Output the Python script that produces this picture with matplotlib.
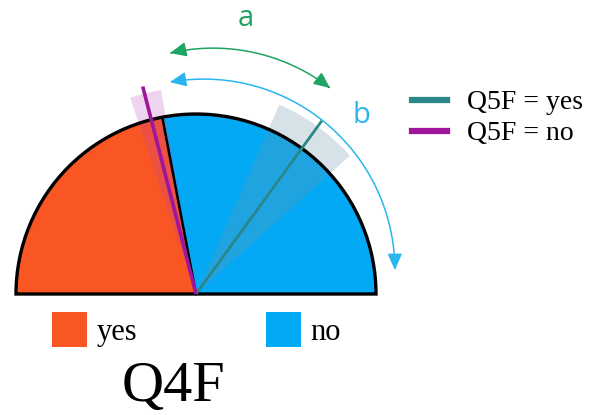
import numpy as np
import matplotlib
matplotlib.use('Agg')
import matplotlib.pyplot as plt
from matplotlib.patches import Wedge, Patch, FancyArrowPatch
from matplotlib.lines import Line2D
from matplotlib.path import Path

# ---------------- data ----------------
q4f_categories = ['yes', 'no']
q4f_shares = [0.44, 0.56]            # share of answers (yes drawn on the left)
q4f_colors = ['#F95624', '#03A9F4']

q5f_labels = ['Q5F = yes', 'Q5F = no']
q5f_estimates = [0.70, 0.42]         # estimated share of "yes" within each Q5F group
q5f_ci_low = [0.632, 0.397]
q5f_ci_high = [0.767, 0.446]
q5f_colors = ['#2A8787', '#A0159D']
q5f_band_colors = ['#6E9AAE', '#B53DB3']

title = 'Q4F'
arc_labels = ['a', 'b']
arc_colors = ['#1FA463', '#2BB5EE']


def share_to_angle(p):
    """share of 'yes' (counted from the left end) -> polar angle in degrees"""
    return 180.0 * (1.0 - p)


SERIF = ['Liberation Serif', 'DejaVu Serif']
SANS = ['Open Sans', 'DejaVu Sans']

fig = plt.figure(figsize=(6.03, 4.15), dpi=100)
ax = fig.add_axes([0, 0, 1, 1])
ax.set_xlim(-196 / 180, 407 / 180)
ax.set_ylim(-121 / 180, 294 / 180)
ax.axis('off')

# semicircle slices
start = 180.0
handles_q4f = []
for cat, share, col in zip(q4f_categories, q4f_shares, q4f_colors):
    end = start - 180.0 * share
    ax.add_patch(Wedge((0, 0), 1.0, end, start, facecolor=col, edgecolor='none', zorder=1))
    handles_q4f.append(Patch(facecolor=col, edgecolor='none', label=cat))
    start = end

# confidence bands
for lo, hi, bc, al in zip(q5f_ci_low, q5f_ci_high, q5f_band_colors, [0.28, 0.22]):
    ax.add_patch(Wedge((0, 0), 1.15, share_to_angle(hi), share_to_angle(lo),
                       facecolor=bc, alpha=al, edgecolor='none', zorder=2))

# outline
ax.add_patch(Wedge((0, 0), 1.0, 0, 180, fill=False, edgecolor='black', lw=2.4,
                   joinstyle='miter', zorder=3))
b_ang = np.deg2rad(share_to_angle(q4f_shares[0]))
ax.plot([0, np.cos(b_ang)], [0, np.sin(b_ang)], color='black', lw=1.8, zorder=3)

# estimate lines
handles_q5f = []
lws = [2.0, 2.6]
for est, col, lab, lw in zip(q5f_estimates, q5f_colors, q5f_labels, lws):
    a = np.deg2rad(share_to_angle(est))
    ax.plot([0, 1.19 * np.cos(a)], [0, 1.19 * np.sin(a)], color=col, lw=lw,
            solid_capstyle='butt', zorder=4)
    handles_q5f.append(Line2D([0], [0], color=col, lw=4.5, label=lab))

# annotation arcs
arc_specs = [((0.095, 0.303), 1.063, 103.0, 52.3),
             ((0.043, 0.132), 1.062, 100.2, 0.06)]
for ((cx, cy), r, a0, a1), col in zip(arc_specs, arc_colors):
    t = np.deg2rad(np.linspace(a0, a1, 200))
    verts = np.column_stack([cx + r * np.cos(t), cy + r * np.sin(t)])
    arr = FancyArrowPatch(path=Path(verts),
                          arrowstyle='<|-|>,head_length=0.9,head_width=0.4',
                          mutation_scale=11, color=col, lw=1.1, zorder=5)
    ax.add_patch(arr)

ax.text(0.278, 1.533, arc_labels[0], color=arc_colors[0], fontsize=21,
        family=SANS, ha='center', va='center')
ax.text(0.917, 0.989, arc_labels[1], color=arc_colors[1], fontsize=21,
        family=SANS, ha='center', va='center')

# legends
leg1 = fig.legend(handles=handles_q5f, loc='upper left',
                  bbox_to_anchor=(412 / 603, 1 - 90 / 415),
                  frameon=False, borderpad=0, borderaxespad=0,
                  handlelength=1.26, handletextpad=0.72, labelspacing=0.2,
                  prop={'family': SERIF, 'size': 20})
leg2 = fig.legend(handles=handles_q4f, loc='upper left',
                  bbox_to_anchor=(52 / 603, 1 - 312 / 415), ncol=2,
                  frameon=False, borderpad=0, borderaxespad=0,
                  handlelength=1.14, handleheight=1.38, handletextpad=0.33,
                  columnspacing=4.2,
                  prop={'family': SERIF, 'size': 22})

fig.text(173.5 / 603, 1 - 401 / 415, title, ha='center', va='baseline',
         fontsize=42, family=SERIF)

fig.savefig('out.png', dpi=100)
